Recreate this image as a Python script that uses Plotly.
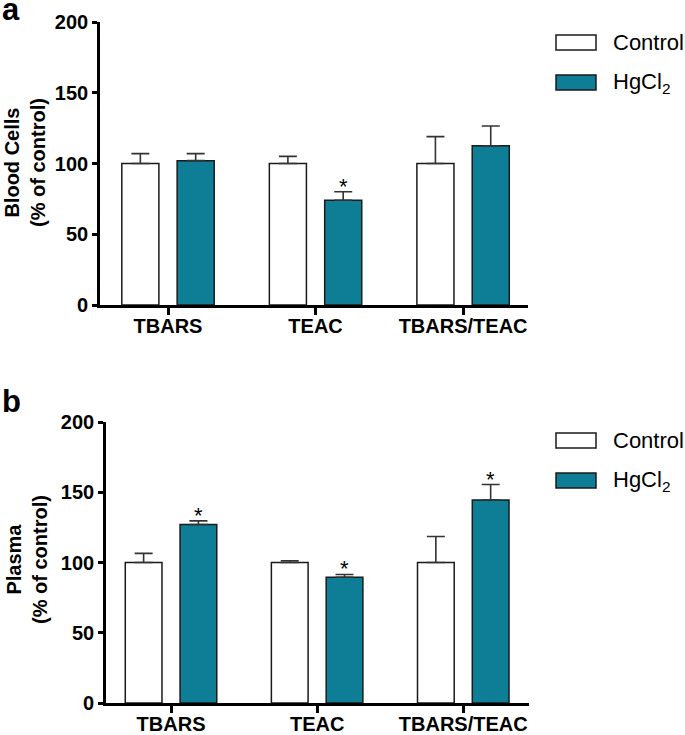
import plotly.graph_objects as go
from plotly.subplots import make_subplots

# ---------------- data ----------------
categories = ["TBARS", "TEAC", "TBARS/TEAC"]

blood_control = [100, 100, 100]
blood_control_err = [7, 5, 19]
blood_hg = [102, 74, 112.5]
blood_hg_err = [5, 6, 14]
blood_sig = [False, True, False]

plasma_control = [100, 100, 100]
plasma_control_err = [6.5, 1.2, 18.5]
plasma_hg = [127, 89.5, 144.5]
plasma_hg_err = [2.6, 2, 11]
plasma_sig = [True, True, True]

y_ticks = [0, 50, 100, 150, 200]

# ---------------- style ----------------
W, H = 685, 735
FONT = "Arial, Liberation Sans, sans-serif"
TEAL = "#0e7d96"
EDGE = "#1a1a1a"
BARGAP = 0.25
BARGROUPGAP = 0.33

fig = make_subplots(rows=2, cols=1)

def add_panel(row, ctrl, ctrl_err, hg, hg_err):
    fig.add_trace(go.Bar(
        x=categories, y=ctrl, name="Control", showlegend=False,
        marker=dict(color="white", line=dict(color=EDGE, width=1.5)),
        error_y=dict(type="data", array=ctrl_err, arrayminus=[0] * len(ctrl),
                     symmetric=False, color="#333333", thickness=1.6, width=9),
    ), row=row, col=1)
    fig.add_trace(go.Bar(
        x=categories, y=hg, name="HgCl2", showlegend=False,
        marker=dict(color=TEAL, line=dict(color=EDGE, width=1.5)),
        error_y=dict(type="data", array=hg_err, arrayminus=[0] * len(hg),
                     symmetric=False, color="#333333", thickness=1.6, width=9),
    ), row=row, col=1)

add_panel(1, blood_control, blood_control_err, blood_hg, blood_hg_err)
add_panel(2, plasma_control, plasma_control_err, plasma_hg, plasma_hg_err)

def px_x(p):
    return p / W

def px_y(p):
    return 1 - p / H

axis_common = dict(showline=True, linecolor="black", linewidth=2.6, mirror=False,
                   showgrid=False, zeroline=False, automargin=False)
tick_font = dict(family=FONT, size=20, color="black", weight="bold")

# panel a geometry (pixels)
fig.update_xaxes(domain=[px_x(100), px_x(528)], range=[-0.461, 2.44],
                 ticks="outside", ticklen=7, tickwidth=2.6, tickcolor="black",
                 ticklabelstandoff=-6,
                 tickfont=tick_font, **axis_common, row=1, col=1)
fig.update_yaxes(domain=[px_y(305), px_y(22)], range=[0, 200], tickvals=y_ticks,
                 ticks="outside", ticklen=5, tickwidth=2.6, tickcolor="black",
                 tickfont=tick_font, **axis_common, row=1, col=1)
# panel b geometry
fig.update_xaxes(domain=[px_x(106), px_x(529)], range=[-0.445, 2.45],
                 ticks="outside", ticklen=7, tickwidth=2.6, tickcolor="black",
                 ticklabelstandoff=-6,
                 tickfont=tick_font, **axis_common, row=2, col=1)
fig.update_yaxes(domain=[px_y(703), px_y(422)], range=[0, 200], tickvals=y_ticks,
                 ticks="outside", ticklen=5, tickwidth=2.6, tickcolor="black",
                 tickfont=tick_font, **axis_common, row=2, col=1)

annotations = []
shapes = []

# significance asterisks above HgCl2 bars
offset = (1 - BARGAP) / 4
for xref, yref, vals, errs, sig in [("x", "y", blood_hg, blood_hg_err, blood_sig),
                                    ("x2", "y2", plasma_hg, plasma_hg_err, plasma_sig)]:
    for i, (v, e, s) in enumerate(zip(vals, errs, sig)):
        if s:
            annotations.append(dict(
                x=i + offset, y=v + e, xref=xref, yref=yref, text="*",
                showarrow=False, yanchor="bottom", yshift=-9,
                font=dict(family=FONT, size=22, color="black")))

# y axis titles
annotations.append(dict(x=px_x(25), y=px_y(163), xref="paper", yref="paper",
                        text="<b>Blood Cells</b><br><b>(% of control)</b>",
                        textangle=-90, showarrow=False, xanchor="center", yanchor="middle",
                        font=dict(family=FONT, size=20, color="black")))
annotations.append(dict(x=px_x(27), y=px_y(560), xref="paper", yref="paper",
                        text="<b>Plasma</b><br><b>(% of control)</b>",
                        textangle=-90, showarrow=False, xanchor="center", yanchor="middle",
                        font=dict(family=FONT, size=20, color="black")))

# panel labels
annotations.append(dict(x=0, y=px_y(9), xref="paper", yref="paper", text="<b>a</b>",
                        showarrow=False, xanchor="left", yanchor="middle",
                        font=dict(family=FONT, size=31, color="black")))
annotations.append(dict(x=0, y=px_y(401), xref="paper", yref="paper", text="<b>b</b>",
                        showarrow=False, xanchor="left", yanchor="middle",
                        font=dict(family=FONT, size=31, color="black")))

# custom legends
legend_items = [("Control", "white"), ("HgCl<sub>2</sub>", TEAL)]
for top in (35, 433):
    for k, (label, color) in enumerate(legend_items):
        y0 = top + k * 40
        shapes.append(dict(type="rect", xref="paper", yref="paper",
                           x0=px_x(556), x1=px_x(596), y0=px_y(y0 + 15), y1=px_y(y0),
                           fillcolor=color, line=dict(color=EDGE, width=1.5)))
        annotations.append(dict(x=px_x(611), y=px_y(y0 + 7.5), xref="paper", yref="paper",
                                text=label, showarrow=False, xanchor="left", yanchor="middle",
                                font=dict(family=FONT, size=22, color="black")))

fig.update_layout(
    width=W, height=H,
    margin=dict(l=0, r=0, t=0, b=0),
    paper_bgcolor="white", plot_bgcolor="white",
    barmode="group", bargap=BARGAP, bargroupgap=BARGROUPGAP,
    annotations=annotations, shapes=shapes,
    font=dict(family=FONT, color="black"),
    showlegend=False,
)

fig.write_html("out.html", config={"displayModeBar": False},
               post_script="document.body.style.margin='0';document.body.style.overflow='hidden';")
